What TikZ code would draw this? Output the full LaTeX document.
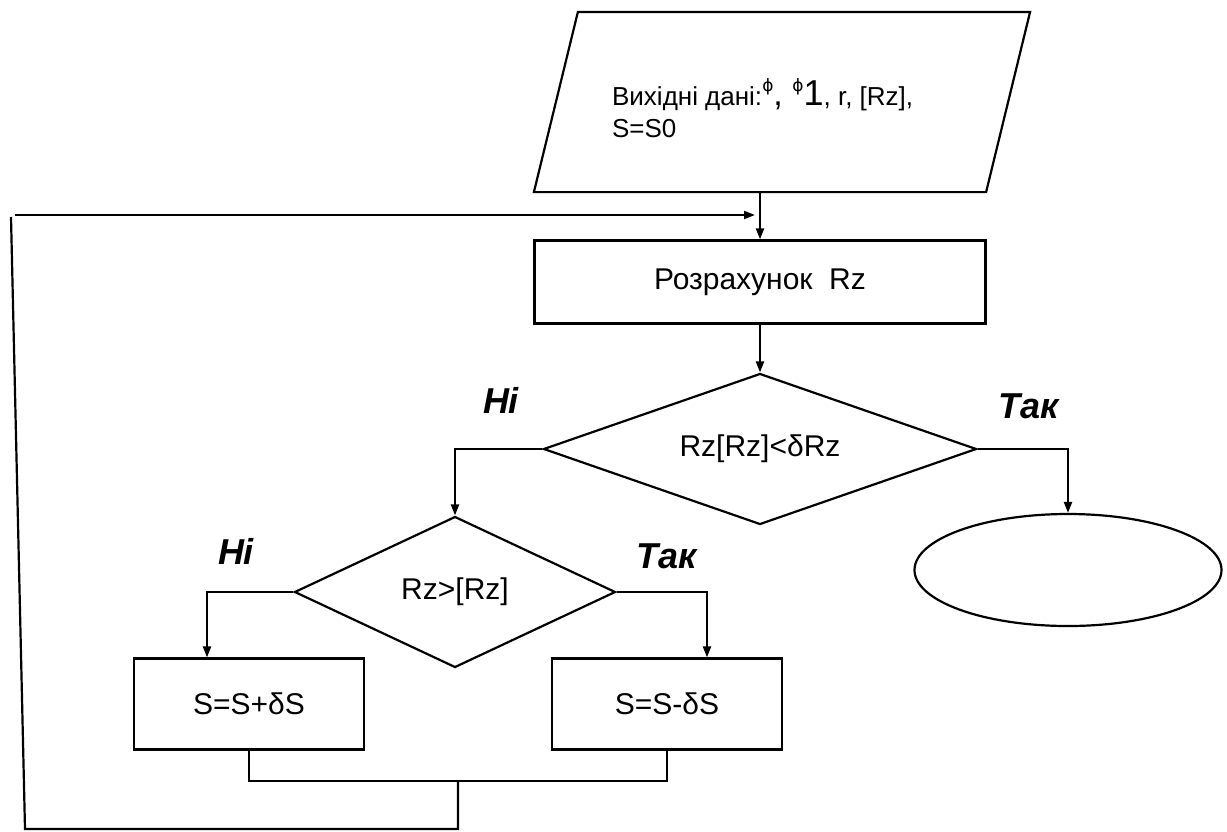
\documentclass[tikz,border=0pt]{standalone}
\usepackage{fontspec}
\setmainfont{Liberation Sans}
\newfontfamily\phifont{DejaVu Sans}
\usetikzlibrary{shapes.geometric,arrows.meta,positioning}

\newcommand{\phismall}{\raisebox{14pt}{\fontsize{17}{17}\phifont ϕ}}

\begin{document}
\begin{tikzpicture}[x=1pt,y=-1pt,line width=2.2pt,
  every node/.style={font=\fontsize{30}{34}\selectfont},
  block/.style={draw,rectangle,minimum width=230pt,minimum height=91pt,inner sep=0pt},
  decision/.style={draw,diamond,inner sep=0pt},
  iobox/.style={rectangle,minimum width=450pt,minimum height=178pt,inner sep=0pt},
  terminal/.style={draw,ellipse,minimum width=307pt,minimum height=112pt},
  answer/.style={font=\fontsize{36}{40}\selectfont\bfseries\itshape},
  flow/.style={-{Triangle[length=11pt,width=8pt]}}]
\useasboundingbox (0,0) rectangle (1227,831);

% blocks
\node[iobox] (inp) at (782,102) {};
\draw ([xshift=-22pt]inp.south west) -- ([xshift=22pt]inp.north west)
  -- ([xshift=22pt]inp.north east) -- ([xshift=-22pt]inp.south east) -- cycle;
\node[anchor=north west,align=left,inner sep=0pt,font=\fontsize{26}{32}\selectfont] (inptext) at (611,77)
  {Вихідні дані:\phismall{\fontsize{34}{34}\selectfont, }\phismall{\fontsize{36}{36}\selectfont 1}, r, [Rz],\\S=S0};
\node[block,minimum width=451pt,minimum height=83pt] (calc) at (760,282) {Розрахунок\ \ Rz};
\node[decision,aspect=2.87,minimum width=433pt,minimum height=151pt] (dec1) at (760,449) {Rz[Rz]<δRz};
\node[terminal] (stop) at (1068,570) {};
\node[decision,aspect=2.13,minimum width=321pt,minimum height=151pt] (dec2) at (455,592) {Rz>[Rz]};
\node[block] (inc) at (249,704) {S=S+δS};
\node[block] (dcr) at (667,704) {S=S-δS};

% answers
\node[answer] (no1) at (501,400) {Ні};
\node[answer] (yes1) at (1029,406) {Так};
\node[answer] (no2) at (236,551) {Ні};
\node[answer] (yes2) at (667,556) {Так};

% connectors
\coordinate (join) at (458,781);
\coordinate (fbdown) at (458,829);
\coordinate (fbleft) at (25,829);
\coordinate (fbtop) at (11,217);
\coordinate (fbstart) at (15,215);

\draw[flow] (calc.north |- inp.south) -- (calc.north);
\draw[flow] (calc.south) -- (dec1.north);
\draw[flow] (dec1.west) -| (dec2.north);
\draw[flow] (dec1.east) -| (stop.north);
\draw[flow] (dec2.west) -| ([xshift=-42pt]inc.north);
\draw[flow] (dec2.east) -| ([xshift=40pt]dcr.north);
\draw (inc.south) |- (join) -| (dcr.south);
\draw (join) -- (fbdown) -- (fbleft) -- (fbtop);
\draw[flow,shorten >=5pt] (fbstart) -- (fbstart -| calc.north);
\end{tikzpicture}
\end{document}
